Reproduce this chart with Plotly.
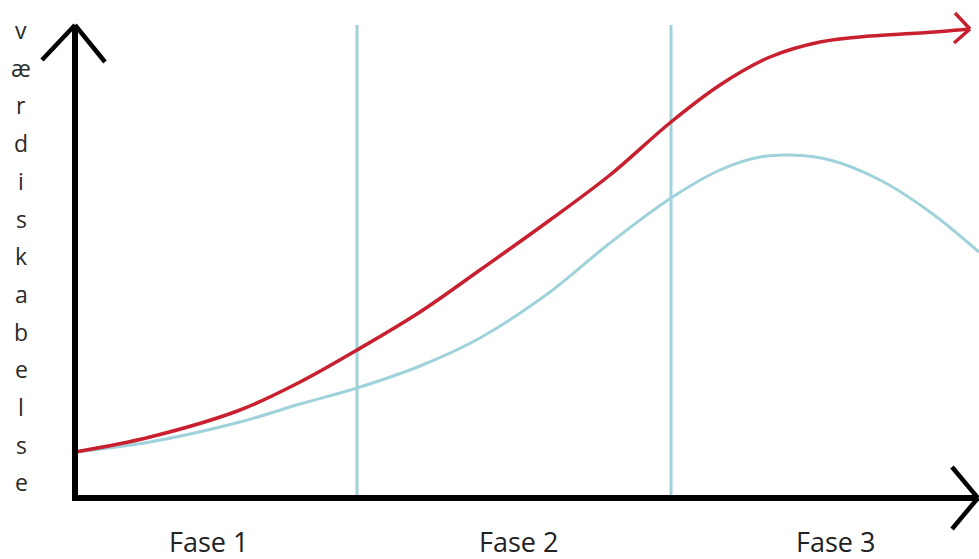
import plotly.graph_objects as go

# Data (arbitrary units: x = time, y = value creation)
red_x = [0, 0.75, 1.65, 2.25, 2.82, 3.45, 4.05, 4.75, 5.35, 5.96, 6.45, 6.95, 7.45, 7.95, 8.45, 8.95]
red_y = [0.92, 1.22, 1.76, 2.32, 2.96, 3.72, 4.56, 5.56, 6.46, 7.52, 8.26, 8.82, 9.12, 9.24, 9.30, 9.38]
blue_x = [0, 0.75, 1.65, 2.25, 2.82, 3.45, 4.05, 4.75, 5.35, 5.96, 6.45, 6.85, 7.15, 7.55, 8.05, 8.55, 9.04]
blue_y = [0.92, 1.12, 1.52, 1.88, 2.20, 2.64, 3.20, 4.12, 5.10, 6.00, 6.56, 6.82, 6.86, 6.76, 6.36, 5.72, 4.92]
phase_bounds = [2.82, 5.96]
phase_labels = ["Fase 1", "Fase 2", "Fase 3"]
phase_centers = [1.33, 4.43, 7.6]
y_label = "værdiskabelse"

RED = "#c8202f"
BLUE = "#a0d2dc"
FONT = "Open Sans"

fig = go.Figure()

# phase boundary lines
for xb in phase_bounds:
    fig.add_shape(type="line", x0=xb, x1=xb, y0=-0.04, y1=9.46, xref="x", yref="y",
                  line=dict(color=BLUE, width=3), layer="below")

fig.add_trace(go.Scatter(x=blue_x, y=blue_y, mode="lines", line=dict(color=BLUE, width=3, shape="spline"),
                         hoverinfo="skip", showlegend=False))
fig.add_trace(go.Scatter(x=red_x, y=red_y, mode="lines", line=dict(color=RED, width=3.5, shape="spline"),
                         hoverinfo="skip", showlegend=False))

# red arrow head
tx, ty = red_x[-1], red_y[-1]
for ax_, ay_ in [(tx - 0.15, ty + 0.32), (tx - 0.16, ty - 0.28)]:
    fig.add_shape(type="line", x0=tx, y0=ty, x1=ax_, y1=ay_, xref="x", yref="y",
                  line=dict(color=RED, width=3.5))

# axes
BLACK = "#000000"
fig.add_shape(type="line", x0=0, x1=0, y0=-0.06, y1=9.46, line=dict(color=BLACK, width=6))
fig.add_shape(type="line", x0=0, x1=-0.33, y0=9.46, y1=8.76, line=dict(color=BLACK, width=4.5))
fig.add_shape(type="line", x0=0, x1=0.30, y0=9.46, y1=8.72, line=dict(color=BLACK, width=4.5))
fig.add_shape(type="line", x0=-0.03, x1=9.03, y0=0, y1=0, line=dict(color=BLACK, width=6))
fig.add_shape(type="line", x0=9.03, x1=8.77, y0=0, y1=0.62, line=dict(color=BLACK, width=4.5))
fig.add_shape(type="line", x0=9.03, x1=8.77, y0=0, y1=-0.62, line=dict(color=BLACK, width=4.5))

# y label letters stacked
for i, ch in enumerate(y_label):
    fig.add_annotation(x=-0.54, y=(498 - (30 + i * 37.7)) / 50, text=ch, showarrow=False,
                       xref="x", yref="y", font=dict(family=FONT, size=23, color="#2a2a2a"))

# phase labels
for lab, cx in zip(phase_labels, phase_centers):
    fig.add_annotation(x=cx, y=-0.86, text=lab, showarrow=False, xref="x", yref="y",
                       font=dict(family=FONT, size=27, color="#222222"))

fig.update_layout(
    width=979, height=559,
    margin=dict(l=0, r=0, t=0, b=0),
    paper_bgcolor="white", plot_bgcolor="white",
    xaxis=dict(range=[-0.75, 9.04], visible=False, fixedrange=True),
    yaxis=dict(range=[-1.22, 9.96], visible=False, fixedrange=True),
)

fig.write_html("out.html", config={"displayModeBar": False},
               post_script="document.body.style.margin='0';document.body.style.overflow='hidden';")
